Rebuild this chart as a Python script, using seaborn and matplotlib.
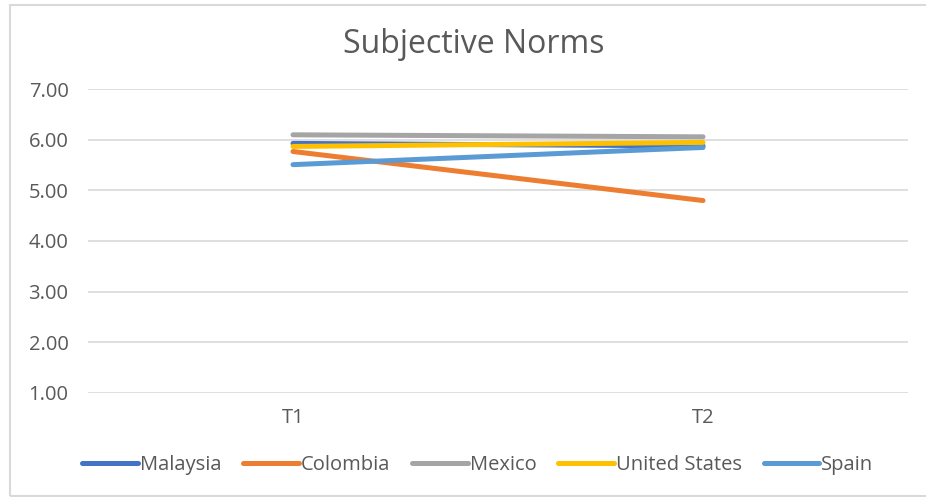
"""Subjective Norms line chart, T1 vs T2 by country."""

import matplotlib.pyplot as plt
import pandas as pd
import seaborn as sns
from matplotlib.patches import Rectangle

TIMES = ["T1", "T2"]
COUNTRIES = ["Malaysia", "Colombia", "Mexico", "United States", "Spain"]
MALAYSIA = [5.93, 5.88]
COLOMBIA = [5.77, 4.80]
MEXICO = [6.10, 6.06]
UNITED_STATES = [5.87, 5.95]
SPAIN = [5.51, 5.85]
COLORS = ["#4472C4", "#ED7D31", "#A5A5A5", "#FFC000", "#5B9BD5"]
Y_TICKS = [1, 2, 3, 4, 5, 6, 7]

TEXT_COLOR = "#595959"
GRID_COLOR = "#D9D9D9"


def build_frame() -> pd.DataFrame:
    rows = []
    for country, values in zip(
        COUNTRIES, [MALAYSIA, COLOMBIA, MEXICO, UNITED_STATES, SPAIN]
    ):
        for i, value in enumerate(values):
            rows.append({"pos": i, "time": TIMES[i], "country": country, "value": value})
    return pd.DataFrame(rows)


def main() -> None:
    sns.set_theme(style="white")
    plt.rcParams["font.family"] = ["Open Sans", "DejaVu Sans"]

    data = build_frame()
    fig = plt.figure(figsize=(9.26, 4.97), dpi=100)
    ax = fig.add_axes([0.095, 0.2099, 0.8856, 0.6104])

    sns.lineplot(
        data=data,
        x="pos",
        y="value",
        hue="country",
        hue_order=COUNTRIES,
        palette=COLORS,
        linewidth=3.6,
        solid_capstyle="round",
        ax=ax,
        legend=True,
    )

    ax.set_xlim(-0.5, 1.5)
    ax.set_ylim(1, 7)
    ax.set_xticks([0, 1])
    ax.set_xticklabels(TIMES)
    ax.set_yticks(Y_TICKS)
    ax.set_yticklabels([f"{v:.2f}" for v in Y_TICKS])
    ax.tick_params(axis="y", length=0, pad=14, labelsize=14.5, labelcolor=TEXT_COLOR)
    ax.tick_params(axis="x", length=0, pad=11, labelsize=14.5, labelcolor=TEXT_COLOR)
    ax.set_xlabel("")
    ax.set_ylabel("")
    ax.yaxis.grid(True, color=GRID_COLOR, linewidth=1.2)
    ax.set_axisbelow(True)
    for side in ["top", "right", "left", "bottom"]:
        ax.spines[side].set_visible(False)

    ax.set_title("Subjective Norms", fontsize=23, color=TEXT_COLOR, pad=26, x=0.47)

    legend = ax.get_legend()
    handles = legend.legend_handles
    legend.remove()
    fig.legend(
        handles,
        COUNTRIES,
        loc="center",
        bbox_to_anchor=(0.516, 0.065),
        ncol=5,
        frameon=False,
        fontsize=14.5,
        labelcolor=TEXT_COLOR,
        handlelength=2.75,
        handletextpad=0.1,
        columnspacing=1.1,
    )

    fig.patches.append(
        Rectangle(
            (0.0103, 0.003),
            1.2,
            0.987,
            transform=fig.transFigure,
            fill=False,
            edgecolor=GRID_COLOR,
            linewidth=1.5,
        )
    )

    fig.savefig("out.png", dpi=100)
    plt.close(fig)


if __name__ == "__main__":
    main()
